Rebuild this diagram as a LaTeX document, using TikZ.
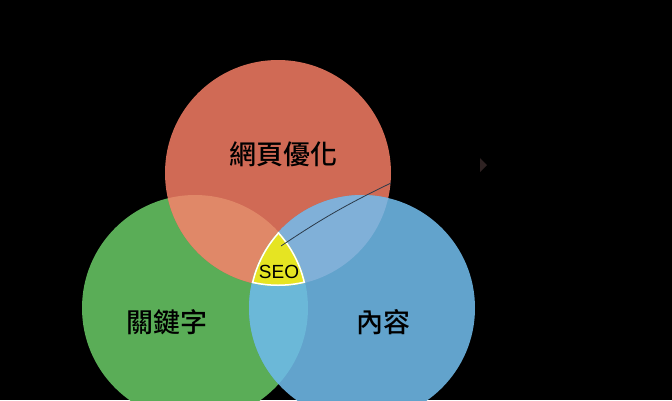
\documentclass[tikz,border=0pt]{standalone}
\usepackage{fontspec}
\setmainfont{Liberation Sans}
\newfontfamily\cjk{Noto Sans CJK TC Medium}
\definecolor{webRed}{HTML}{D06A55}
\definecolor{keyGreen}{HTML}{5AAD57}
\definecolor{contentBlue}{HTML}{62A3CC}
\definecolor{redGreen}{HTML}{E08868}
\definecolor{redBlue}{HTML}{80B0D8}
\definecolor{greenBlue}{HTML}{6BB8D8}
\definecolor{seoYellow}{HTML}{E6E422}
\definecolor{lineGray}{HTML}{2B3A4A}
\definecolor{tipDark}{HTML}{2E2222}

\begin{document}
\begin{tikzpicture}[x=1pt,y=-1pt,%%
  labelStyle/.style={font=\cjk\fontsize{27}{30}\selectfont,text=black,inner sep=0pt},%%
  seoStyle/.style={font=\fontsize{19}{22}\selectfont,text=black,inner sep=0pt},%%
  lineStyle/.style={-,draw=lineGray,line width=0.8pt},%%
  borderStyle/.style={draw=white,line width=3pt}%%
]
%%
\pgfmathsetmacro{\rad}{113}
%% Centres of the three circles.
\coordinate (redCenter) at (278,173);
\coordinate (greenCenter) at (195,308);
\coordinate (blueCenter) at (362,308);
%%
%% Black background.
\useasboundingbox[fill=black] (0,0) rectangle (672,400);
%%
%% The three circles.
\fill[keyGreen] (greenCenter) circle [radius=\rad pt];
\fill[webRed] (redCenter) circle [radius=\rad pt];
\fill[contentBlue] (blueCenter) circle [radius=\rad pt];
%%
%% Overlaps of two circles.
\begin{scope}
  \clip (redCenter) circle [radius=\rad pt];
  \fill[redGreen] (greenCenter) circle [radius=\rad pt];
  \fill[redBlue] (blueCenter) circle [radius=\rad pt];
\end{scope}
\begin{scope}
  \clip (greenCenter) circle [radius=\rad pt];
  \fill[greenBlue] (blueCenter) circle [radius=\rad pt];
\end{scope}
%%
%% Overlap of all three circles.
\begin{scope}
  \clip (redCenter) circle [radius=\rad pt];
  \clip (greenCenter) circle [radius=\rad pt];
  \clip (blueCenter) circle [radius=\rad pt];
  \fill[seoYellow] (0,0) rectangle (672,400);
  \draw[borderStyle] (redCenter) circle [radius=\rad pt];
  \draw[borderStyle] (greenCenter) circle [radius=\rad pt];
  \draw[borderStyle] (blueCenter) circle [radius=\rad pt];
\end{scope}
%%
%% Labels.
\node[labelStyle] (webLabel) at (283,154) {網頁優化};
\node[labelStyle] (keyLabel) at (167,322) {關鍵字};
\node[labelStyle] (contentLabel) at (383,322) {內容};
\node[seoStyle] (seoLabel) at (279,272) {SEO};
%%
%% Pointer from the SEO area.
\coordinate (seoTip) at (281,246);
\coordinate (lineEnd) at (391,183);
\draw[lineStyle] (seoTip) to[bend left=4] (lineEnd);
\fill[tipDark] (480,158) -- (487,165) -- (480,172) -- cycle;
\end{tikzpicture}
\end{document}
